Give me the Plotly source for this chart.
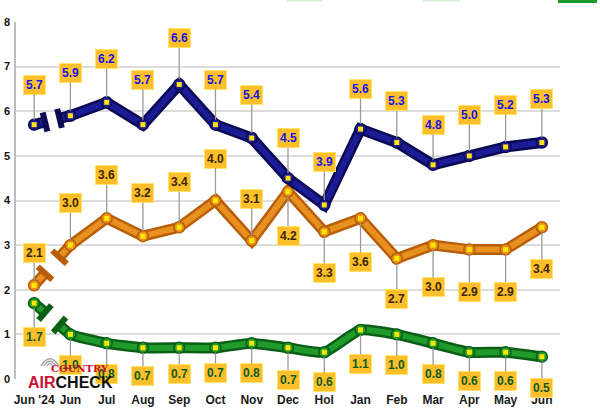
import math
import plotly.graph_objects as go

# ---------------- data ----------------
months = ["Jun '24", "Jun", "Jul", "Aug", "Sep", "Oct", "Nov", "Dec", "Hol",
          "Jan", "Feb", "Mar", "Apr", "May", "Jun"]
blue_vals = [5.7, 5.9, 6.2, 5.7, 6.6, 5.7, 5.4, 4.5, 3.9, 5.6, 5.3, 4.8, 5.0, 5.2, 5.3]
orange_vals = [2.1, 3.0, 3.6, 3.2, 3.4, 4.0, 3.1, 4.2, 3.3, 3.6, 2.7, 3.0, 2.9, 2.9, 3.4]
green_vals = [1.7, 1.0, 0.8, 0.7, 0.7, 0.7, 0.8, 0.7, 0.6, 1.1, 1.0, 0.8, 0.6, 0.6, 0.5]
y_ticks = [0, 1, 2, 3, 4, 5, 6, 7, 8]

# ---------------- style ----------------
W, H = 600, 408
ML, MR, MT, MB = 16, 40, 22, 29
PW, PH = W - ML - MR, H - MT - MB
PX_PER_CAT = PW / len(months)
PX_PER_UNIT = PH / 8.0

# label offsets in pixels (negative = above point)
blue_ay = [-40, -43, -43, -45, -46, -45, -43, -40, -43, -40, -41, -40, -41, -42, -43]
orange_ay = [-32, -42, -43, -43, -45, -42, -42, 44, 41, 44, 40, 42, 42, 42, 42]
green_ay = [34, 31, 31, 28, 26, 25, 30, 32, 30, 34, 31, 31, 29, 29, 31]

series = [
    dict(vals=green_vals, dark="#0b5e16", mid="#1f9a2b", txt="#0b5a22", ay=green_ay, shape="spline"),
    dict(vals=orange_vals, dark="#b85e08", mid="#e8901f", txt="#3a2600", ay=orange_ay, shape="linear"),
    dict(vals=blue_vals, dark="#0a0a55", mid="#1c1c96", txt="#1414e6", ay=blue_ay, shape="linear"),
]

LABEL_FONT = "Liberation Sans, Arial, sans-serif"
BREAK_A, BREAK_B = 0.3, 0.7

fig = go.Figure()
annotations = []
x_idx = list(range(len(months)))

for s in series:
    v = s["vals"]
    # stub and main part (axis break between first two points)
    ya = v[0] + (v[1] - v[0]) * BREAK_A
    yb = v[0] + (v[1] - v[0]) * BREAK_B
    parts = [([0, BREAK_A], [v[0], ya]), ([BREAK_B] + x_idx[1:], [yb] + v[1:])]
    for xs, ys in parts:
        fig.add_trace(go.Scatter(x=xs, y=ys, mode="lines", hoverinfo="skip",
                                 line=dict(color=s["dark"], width=11, shape=s["shape"], smoothing=0.5)))
        fig.add_trace(go.Scatter(x=xs, y=ys, mode="lines", hoverinfo="skip",
                                 line=dict(color=s["mid"], width=6, shape=s["shape"], smoothing=0.5)))
    # caps at the break
    ang = math.degrees(math.atan2(-(v[1] - v[0]) * PX_PER_UNIT, PX_PER_CAT))
    fig.add_trace(go.Scatter(x=[BREAK_A, BREAK_B], y=[ya, yb], mode="markers", hoverinfo="skip",
                             marker=dict(symbol="line-ns", size=14, angle=ang,
                                         line=dict(color=s["dark"], width=6))))
    # vertex markers
    fig.add_trace(go.Scatter(x=x_idx, y=v, mode="markers", hoverinfo="skip",
                             marker=dict(symbol="circle", size=11, color=s["mid"],
                                         line=dict(color=s["dark"], width=1.5))))
    fig.add_trace(go.Scatter(x=x_idx, y=v, mode="markers", hoverinfo="skip",
                             marker=dict(symbol="square", size=5, color="#ffe600",
                                         line=dict(width=0))))
    for i, val in enumerate(v):
        annotations.append(dict(
            x=i, y=val, xref="x", yref="y", ax=0, ay=s["ay"][i],
            text="<b>%.1f</b>" % val, showarrow=True, arrowhead=0, arrowwidth=1.3,
            arrowcolor="#9a9a9a", standoff=5,
            font=dict(family=LABEL_FONT, size=12, color=s["txt"]),
            bgcolor="#ffbf2a", bordercolor="#ffe36a", borderwidth=1, borderpad=2,
        ))


def p2x(px):
    return (px - ML) / PW


def p2y(py):
    return (MT + PH - py) / PH


# logo
annotations.append(dict(x=p2x(80), y=p2y(368), xref="paper", yref="paper", showarrow=False,
                        xanchor="center", yanchor="middle",
                        text="<b>COUNTRY</b>", font=dict(family="DejaVu Serif", size=10, color="#c8102e")))
annotations.append(dict(x=p2x(70), y=p2y(382), xref="paper", yref="paper", showarrow=False,
                        xanchor="center", yanchor="middle",
                        text="<b><span style='color:#c8102e'>AIR</span>CHECK</b>",
                        font=dict(family="Liberation Sans, Arial, sans-serif", size=16, color="#111111")))

shapes = []
cx, cy = 50, 366
for r in (3, 6, 9):
    shapes.append(dict(type="path", xref="paper", yref="paper",
                       path="M %f %f Q %f %f %f %f" % (p2x(cx - r), p2y(cy), p2x(cx), p2y(cy - 1.6 * r),
                                                       p2x(cx + r), p2y(cy)),
                       line=dict(color="#a8a8a8", width=1.5)))
# cropped legend pieces at the top edge
shapes.append(dict(type="rect", xref="paper", yref="paper", x0=p2x(287), x1=p2x(323),
                   y0=p2y(1.5), y1=p2y(-2), fillcolor="#d6efd6", line=dict(width=0)))
shapes.append(dict(type="rect", xref="paper", yref="paper", x0=p2x(423), x1=p2x(460),
                   y0=p2y(1.5), y1=p2y(-2), fillcolor="#d6efd6", line=dict(width=0)))
shapes.append(dict(type="rect", xref="paper", yref="paper", x0=p2x(558), x1=p2x(597),
                   y0=p2y(3), y1=p2y(-2), fillcolor="#1a9a2a", line=dict(width=0)))

fig.update_layout(
    width=W, height=H, margin=dict(l=ML, r=MR, t=MT, b=MB, autoexpand=False),
    paper_bgcolor="white", plot_bgcolor="white", showlegend=False,
    annotations=annotations, shapes=shapes,
    xaxis=dict(range=[-0.5, len(months) - 0.5], tickvals=x_idx,
               ticktext=["<b>%s</b>" % m for m in months], showgrid=False, zeroline=False,
               showline=False, ticks="", ticklabelstandoff=12, tickangle=0, automargin=False,
               tickfont=dict(family=LABEL_FONT, size=12, color="#1a1a1a")),
    yaxis=dict(range=[0, 8], tickvals=y_ticks, ticktext=["<b>%d</b>" % t for t in y_ticks],
               showgrid=True, gridcolor="#dcdcdc", gridwidth=2, zeroline=False, automargin=False,
               showline=True, linecolor="#bdbdbd", linewidth=1.5, ticks="", ticklabelstandoff=2,
               tickfont=dict(family=LABEL_FONT, size=11, color="#111111")),
)

fig.write_html("out.html")
